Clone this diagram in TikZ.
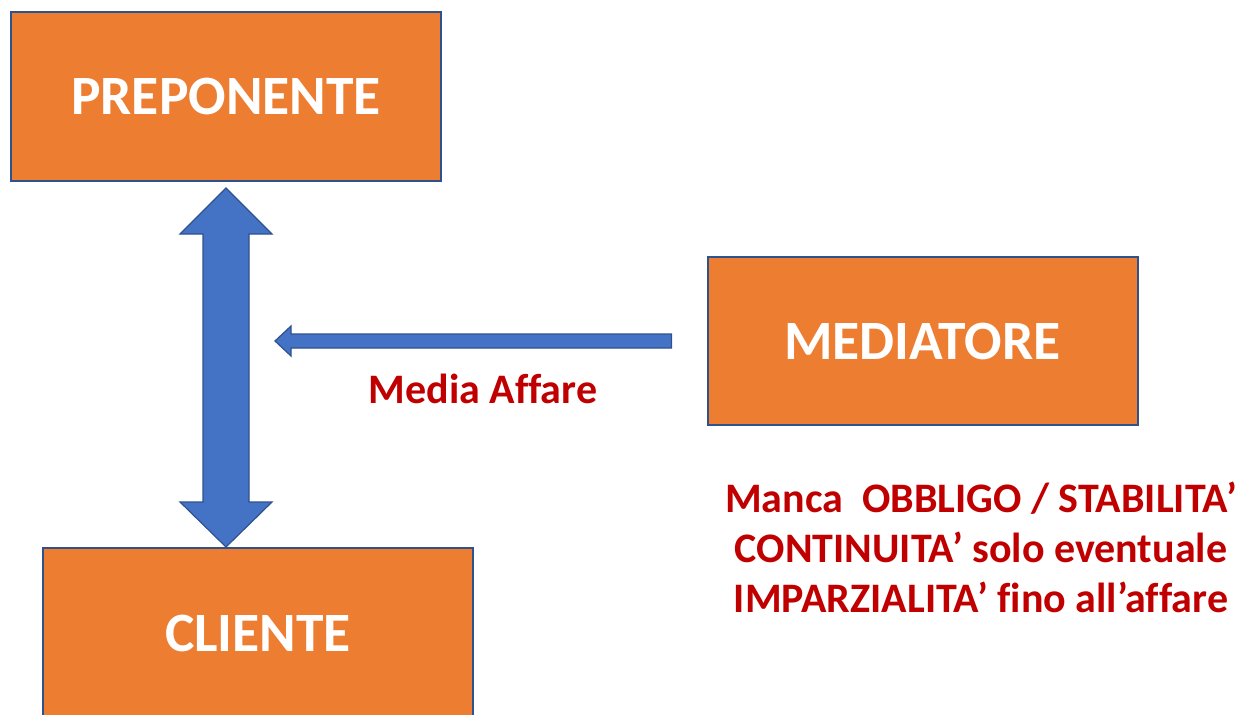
\documentclass[tikz,border=0pt]{standalone}
\usepackage{fontspec}
\setmainfont[Ligatures={TeX,NoCommon}]{Carlito}
\usetikzlibrary{calc}
\definecolor{orng}{HTML}{ED7D31}
\definecolor{bordr}{HTML}{2F528F}
\definecolor{blu}{HTML}{4472C4}
\definecolor{rd}{HTML}{C00000}
\begin{document}
\begin{tikzpicture}[x=1pt,y=-1pt,
 box/.style={draw=bordr,line width=2pt,fill=orng,text=white,font=\bfseries\fontsize{55.5}{60}\selectfont,inner sep=0pt,minimum width=430pt},
 arr/.style={draw=bordr,line width=1.2pt,fill=blu,line join=miter},
 lbl/.style={text=rd,font=\bfseries\fontsize{42}{50}\selectfont}]
\clip (0,0) rectangle (1238,714);
\node[box,minimum height=169pt] (prep) at (226,96.5) {PREPONENTE};
\node[box,minimum height=168pt] (med) at (922.5,341) {MEDIATORE};
\node[box,minimum height=170pt] (cli) at (258,633) {CLIENTE};
% double arrow between PREPONENTE and CLIENTE
\coordinate (t) at ($(prep.south)+(0,6)$);
\coordinate (b) at (cli.north -| t);
\draw[arr] (t) -- ($(t)+(46,46)$) -- ($(t)+(23,46)$) -- ($(b)+(23,-45)$) -- ($(b)+(46,-45)$) -- (b)
  -- ($(b)+(-46,-45)$) -- ($(b)+(-23,-45)$) -- ($(t)+(-23,46)$) -- ($(t)+(-46,46)$) -- cycle;
% arrow from MEDIATORE
\coordinate (h) at ($(med.west)+(-35,0)$);
\coordinate (ht) at ($(t |- med.west)+(49,0)$);
\draw[arr] ($(h)+(0,-7)$) -- ($(ht)+(16,-7)$) -- ($(ht)+(16,-15)$) -- (ht) -- ($(ht)+(16,15)$)
  -- ($(ht)+(16,7)$) -- ($(h)+(0,7)$) -- cycle;
\node[lbl] (ma) at (483,389) {Media Affare};
\node[lbl,align=center] (note) at (981,547) {Manca\ \ OBBLIGO / STABILITA’\\CONTINUITA’ solo eventuale\\IMPARZIALITA’ fino all’affare};
\end{tikzpicture}
\end{document}
